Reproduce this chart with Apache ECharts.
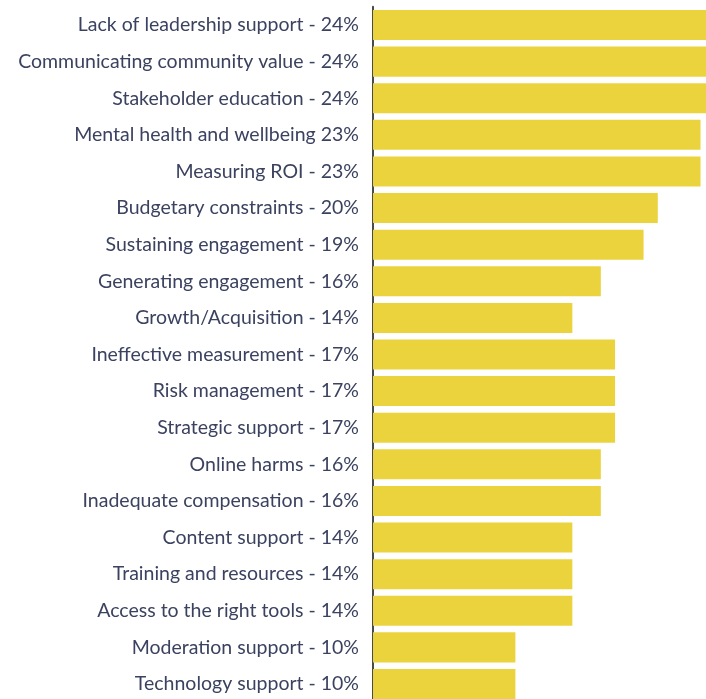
<!DOCTYPE html>
<html>
<head>
<meta charset="utf-8">
<script src="https://cdn.jsdelivr.net/npm/echarts@6/dist/echarts.min.js"></script>
<style>
  html, body { margin: 0; padding: 0; background: #fff; }
  #chart { width: 706px; height: 699px; }
</style>
</head>
<body>
<div id="chart"></div>
<script>
// Challenges, top to bottom
const categories = [
  'Lack of leadership support - 24%',
  'Communicating community value - 24%',
  'Stakeholder education - 24%',
  'Mental health and wellbeing 23%',
  'Measuring ROI - 23%',
  'Budgetary constraints - 20%',
  'Sustaining engagement - 19%',
  'Generating engagement - 16%',
  'Growth/Acquisition - 14%',
  'Ineffective measurement - 17%',
  'Risk management - 17%',
  'Strategic support - 17%',
  'Online harms - 16%',
  'Inadequate compensation - 16%',
  'Content support - 14%',
  'Training and resources - 14%',
  'Access to the right tools - 14%',
  'Moderation support - 10%',
  'Technology support - 10%'
];
const values = [24, 24, 24, 23, 23, 20, 19, 16, 14, 17, 17, 17, 16, 16, 14, 14, 14, 10, 10];

const chart = echarts.init(document.getElementById('chart'));
chart.setOption({
  animation: false,
  // plot area runs past the right and bottom edges, so the longest bars and last row are cut off
  grid: {
    left: 373, width: 356, top: 6.7, height: 695.6,
    containLabel: false, outerBoundsMode: 'none'
  },
  xAxis: {
    type: 'value', min: 0, max: 25,
    show: false
  },
  yAxis: {
    type: 'category',
    inverse: true,
    data: categories,
    axisLine: { show: true, lineStyle: { color: '#4a4a4a', width: 2 } },
    axisTick: { show: false },
    axisLabel: {
      margin: 14,
      color: '#3b4260',
      fontFamily: 'Lato',
      fontSize: 19.5
    }
  },
  series: [{
    type: 'bar',
    data: values,
    barCategoryGap: '18%',
    itemStyle: { color: '#ebd33e' },
    clip: true
  }]
});
</script>
</body>
</html>
